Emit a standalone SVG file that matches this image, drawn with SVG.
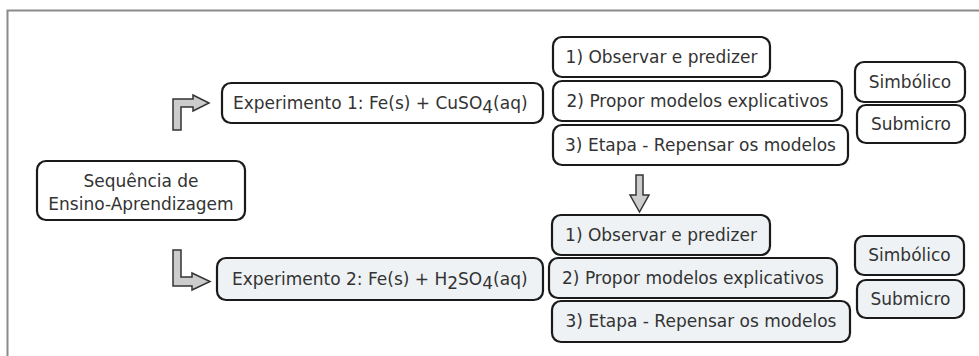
<svg xmlns="http://www.w3.org/2000/svg" width="979" height="356" viewBox="0 0 979 356">
<style>
.box{fill:#ffffff;stroke:#1a1a1a;stroke-width:2.2}
.alt{fill:#eef2f5}
.t{font-family:"DejaVu Sans","Verdana",sans-serif;font-size:17px;fill:#333333}
.arr{fill:#cccccc;stroke:#333333;stroke-width:1.5;stroke-linejoin:miter}
</style>
<rect width="979" height="356" fill="#ffffff"/>
<path d="M7.5,356 V10.5 H979" fill="none" stroke="#8a8a8a" stroke-width="2"/>
<g id="connectors">
<path class="arr" d="M173,130 V99 H193 V95 L209,103 L193,111 V107 H181 V130 Z"/>
<path class="arr" d="M173,250 H181 V277 H192 V273 L210,281.5 L192,290 V286 H173 Z"/>
<path class="arr" d="M636,175 H643 V195 H649 L639.5,212 L630,195 H636 Z"/>
</g>
<g id="seq"><rect class="box" x="37" y="161" width="208" height="59" rx="9"/>
<text class="t" x="141" y="187" text-anchor="middle">Sequência de</text>
<text class="t" x="141" y="210" text-anchor="middle">Ensino-Aprendizagem</text></g>
<g id="exp1"><rect class="box" x="222" y="83" width="321" height="40" rx="9"/>
<text class="t" x="233" y="109">Experimento 1: Fe(s) + CuSO<tspan dy="4">4</tspan><tspan dy="-4">(aq)</tspan></text></g>
<g id="exp2"><rect class="box alt" x="217" y="258" width="326" height="42" rx="9"/>
<text class="t" x="232" y="285">Experimento 2: Fe(s) + H<tspan dy="4">2</tspan><tspan dy="-4">SO</tspan><tspan dy="4">4</tspan><tspan dy="-4">(aq)</tspan></text></g>
<g id="a1"><rect class="box" x="553" y="37" width="217" height="40" rx="9"/>
<text class="t" x="661.5" y="63" text-anchor="middle">1) Observar e predizer</text></g>
<g id="a2"><rect class="box" x="553" y="81" width="289" height="40" rx="9"/>
<text class="t" x="697.5" y="107" text-anchor="middle">2) Propor modelos explicativos</text></g>
<g id="a3"><rect class="box" x="553" y="125" width="295" height="40" rx="9"/>
<text class="t" x="700.5" y="151" text-anchor="middle">3) Etapa - Repensar os modelos</text></g>
<g id="s1"><rect class="box" x="855" y="62" width="110" height="40" rx="9"/>
<text class="t" x="910" y="88" text-anchor="middle">Simbólico</text></g>
<g id="m1"><rect class="box" x="857" y="105" width="108" height="38" rx="9"/>
<text class="t" x="911" y="130" text-anchor="middle">Submicro</text></g>
<g id="b1"><rect class="box alt" x="552" y="215" width="218" height="40" rx="9"/>
<text class="t" x="661" y="241" text-anchor="middle">1) Observar e predizer</text></g>
<g id="b2"><rect class="box alt" x="549" y="258" width="288" height="40" rx="9"/>
<text class="t" x="693" y="284" text-anchor="middle">2) Propor modelos explicativos</text></g>
<g id="b3"><rect class="box alt" x="552" y="301" width="298" height="41" rx="9"/>
<text class="t" x="701" y="327" text-anchor="middle">3) Etapa - Repensar os modelos</text></g>
<g id="s2"><rect class="box alt" x="855" y="236" width="109" height="39" rx="9"/>
<text class="t" x="909.5" y="261" text-anchor="middle">Simbólico</text></g>
<g id="m2"><rect class="box alt" x="857" y="280" width="107" height="38" rx="9"/>
<text class="t" x="910.5" y="305" text-anchor="middle">Submicro</text></g>
</svg>
